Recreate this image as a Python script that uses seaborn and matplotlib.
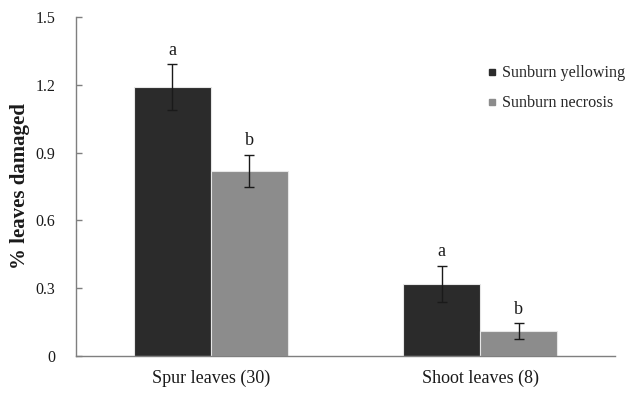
import matplotlib
matplotlib.use("Agg")
import matplotlib.pyplot as plt
from matplotlib.lines import Line2D
import seaborn as sns
import pandas as pd

categories = ["Spur leaves (30)", "Shoot leaves (8)"]
series = ["Sunburn yellowing", "Sunburn necrosis"]
yellowing = [1.19, 0.32]
necrosis = [0.82, 0.11]
yellowing_err = [0.10, 0.08]
necrosis_err = [0.07, 0.035]
yellowing_letters = ["a", "a"]
necrosis_letters = ["b", "b"]
yticks = [0, 0.3, 0.6, 0.9, 1.2, 1.5]
ytick_labels = ["0", "0.3", "0.6", "0.9", "1.2", "1.5"]
colors = ["#2b2b2b", "#8c8c8c"]

sns.set_style("white")
plt.rcParams["font.family"] = ["Liberation Serif", "DejaVu Serif"]

df = pd.DataFrame({
    "category": categories * 2,
    "series": [series[0]] * 2 + [series[1]] * 2,
    "value": yellowing + necrosis,
})
errs = [yellowing_err, necrosis_err]
letters = [yellowing_letters, necrosis_letters]

fig = plt.figure(figsize=(6.3, 3.96), dpi=100)
ax = fig.add_axes([76/630, 40/396, 539/630, 339/396])

sns.barplot(data=df, x="category", y="value", hue="series", order=categories,
            hue_order=series, palette=colors, width=0.57, gap=0, errorbar=None,
            edgecolor="#e6e6e6", linewidth=0.8, legend=False, ax=ax)

bar_containers = list(ax.containers)
for i, cont in enumerate(bar_containers):
    for j, patch in enumerate(cont.patches):
        xc = patch.get_x() + patch.get_width() / 2
        h = patch.get_height()
        e = errs[i][j]
        ax.errorbar(xc, h, yerr=e, fmt="none", ecolor="#1a1a1a", elinewidth=1.0,
                    capsize=3.5, capthick=1.0)
        ax.annotate(letters[i][j], (xc, h + e), xytext=(0, 4), textcoords="offset points",
                    ha="center", va="bottom", fontsize=13, color="#1a1a1a")

ax.set_xlim(-0.5, 1.5)
ax.set_ylim(0, 1.5)
ax.set_yticks(yticks)
ax.set_yticklabels(ytick_labels)
ax.set_xticks([-0.5, 0.5, 1.5], minor=True)
ax.tick_params(axis="x", which="minor", direction="in", length=4, color="#7f7f7f", width=1)
ax.tick_params(axis="x", which="major", length=0, pad=10, labelsize=13, labelcolor="#1a1a1a")
ax.tick_params(axis="y", direction="in", length=4, color="#7f7f7f", width=1, pad=15,
               labelsize=11.5, labelcolor="#1a1a1a")
ax.tick_params(left=True, bottom=True)
ax.set_xlabel("")
ax.set_ylabel("% leaves damaged", fontsize=15, fontweight="bold", color="#1a1a1a", labelpad=4)
sns.despine(ax=ax)
for s in ["left", "bottom"]:
    ax.spines[s].set_color("#7f7f7f")
    ax.spines[s].set_linewidth(1.0)

handles = [Line2D([], [], marker="s", linestyle="none", markersize=5, color=c) for c in colors]
ax.legend(handles, series, loc="upper left", bbox_to_anchor=(405/539, 1 - 42/339),
          frameon=False, fontsize=11.6, handlelength=0.6, handletextpad=0.3,
          labelspacing=0.85, borderaxespad=0)

fig.savefig("out.png", dpi=100)
